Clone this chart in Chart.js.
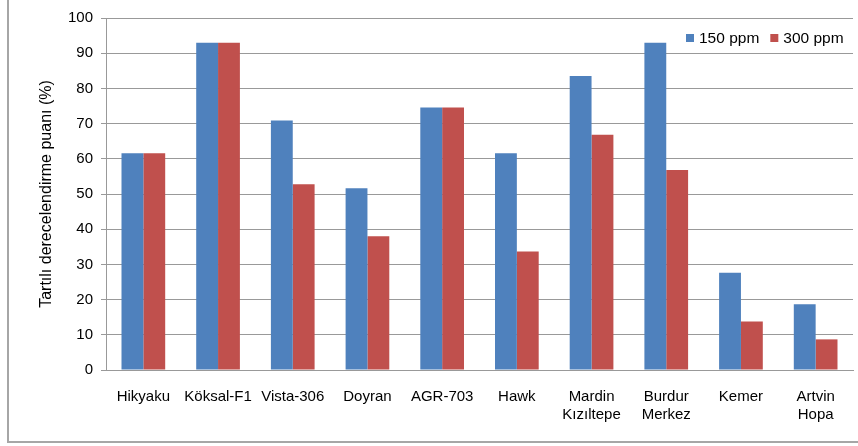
<!DOCTYPE html>
<html>
<head>
<meta charset="utf-8">
<script src="https://cdn.jsdelivr.net/npm/chart.js@4"></script>
<style>
  body { margin: 0; background: #fff; }
  #wrap { position: relative; width: 858px; height: 446px; }
  #frame { position: absolute; left: 7px; top: -2px; width: 860px; height: 443px;
           border-left: 2px solid #a6a6a6; border-bottom: 2px solid #a6a6a6; }
  canvas { position: absolute; left: 0; top: 0; }
</style>
</head>
<body>
<div id="wrap">
  <div id="frame"></div>
  <canvas id="bar-chart" width="858" height="446"></canvas>
</div>
<script>
let labels = ['Hikyaku', 'Köksal-F1', 'Vista-306', 'Doyran', 'AGR-703', 'Hawk',
  ['Mardin', 'Kızıltepe'], ['Burdur', 'Merkez'], 'Kemer', ['Artvin', 'Hopa']];
let ppm150 = [61.6, 93.0, 70.9, 51.6, 74.6, 61.6, 83.5, 93.0, 27.6, 18.7];
let ppm300 = [61.6, 93.0, 52.8, 38.0, 74.6, 33.7, 66.8, 56.8, 13.8, 8.7];
let yTicks = [0, 10, 20, 30, 40, 50, 60, 70, 80, 90, 100];

let font = 'Liberation Sans, Arial, sans-serif';

// legend in the top right corner of the plot
let legendPlugin = {
  id: 'cornerLegend',
  afterDraw(chart) {
    let ctx = chart.ctx;
    let x = 686;
    let y = 38;
    ctx.save();
    ctx.font = '15.5px ' + font;
    ctx.textBaseline = 'middle';
    chart.data.datasets.forEach(ds => {
      ctx.fillStyle = ds.backgroundColor;
      ctx.fillRect(x, y - 4, 8, 8);
      ctx.fillStyle = '#000';
      ctx.fillText(ds.label, x + 13, y + 1);
      x += 13 + ctx.measureText(ds.label).width + 11;
    });
    ctx.restore();
  }
};

new Chart(document.getElementById('bar-chart'), {
  type: 'bar',
  data: {
    labels: labels,
    datasets: [{
        label: '150 ppm',
        data: ppm150,
        backgroundColor: '#4F81BD',
        categoryPercentage: 0.585,
        barPercentage: 1
      }, {
        label: '300 ppm',
        data: ppm300,
        backgroundColor: '#C0504D',
        categoryPercentage: 0.585,
        barPercentage: 1
      }
    ]
  },
  options: {
    responsive: false,
    animation: false,
    events: [],
    layout: { padding: { left: 37, top: 18, right: 5, bottom: 0 } },
    plugins: {
      legend: { display: false },
      tooltip: { enabled: false }
    },
    scales: {
      x: {
        grid: { display: false },
        border: { display: true, color: '#999', width: 1 },
        ticks: { color: '#000', font: { family: font, size: 15 }, padding: 10,
                 maxRotation: 0, autoSkip: false },
        afterFit: s => { s.height = 76; }
      },
      y: {
        min: 0,
        max: 100,
        afterBuildTicks: s => { s.ticks = yTicks.map(v => ({ value: v })); },
        grid: { color: '#999', lineWidth: 1, tickLength: 5 },
        border: { display: true, color: '#999', width: 1 },
        ticks: { color: '#000', font: { family: font, size: 15 }, padding: 8 },
        title: {
          display: true,
          text: 'Tartılı derecelendirme puanı (%)',
          color: '#000',
          font: { family: font, size: 16 },
          padding: 0
        },
        afterFit: s => { s.width = 69; }
      }
    }
  },
  plugins: [legendPlugin]
});
</script>
</body>
</html>
